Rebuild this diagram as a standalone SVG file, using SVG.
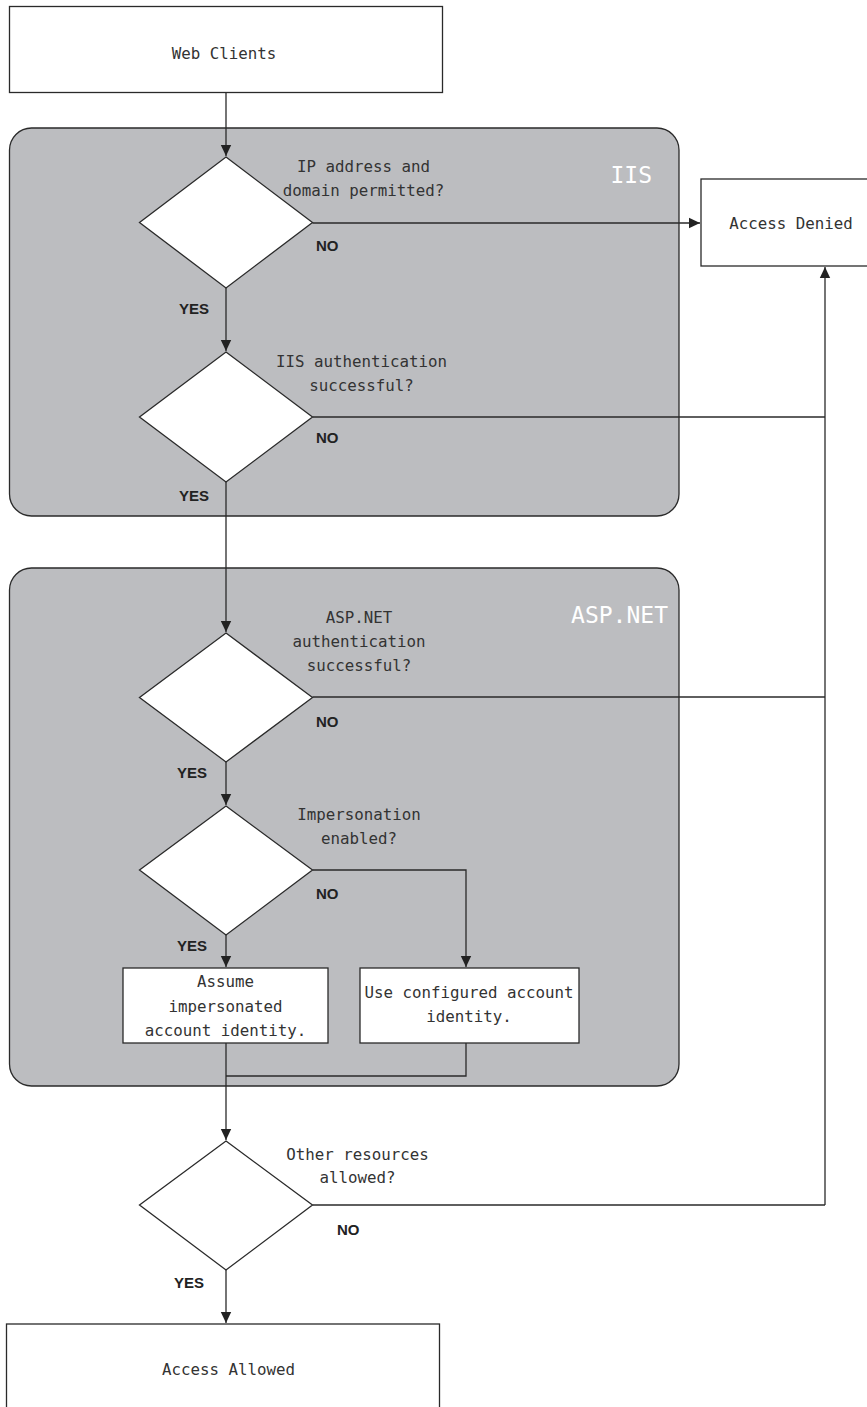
<svg xmlns="http://www.w3.org/2000/svg" width="867" height="1407" viewBox="0 0 867 1407">
<defs>
<marker id="arr" markerUnits="userSpaceOnUse" markerWidth="12" markerHeight="12" viewBox="0 0 12 12" refX="11" refY="6" orient="auto">
<path d="M0,0.8 L11,6 L0,11.2 Z" fill="#222"/>
</marker>
<style>
.panel{fill:#bcbdc0;stroke:#2a2a2a;stroke-width:1.3}
.box{fill:#fff;stroke:#2a2a2a;stroke-width:1.3}
.dia{fill:#fff;stroke:#2a2a2a;stroke-width:1.3}
.mono{font-family:"DejaVu Sans Mono","Liberation Mono",monospace;font-size:15.8px;fill:#333;text-anchor:middle}
.lbl{font-family:"Liberation Sans",Arial,sans-serif;font-size:15px;font-weight:bold;fill:#222}
.title{font-family:"DejaVu Sans Mono","Liberation Mono",monospace;font-size:23px;fill:#fff;text-anchor:end}
.conn{fill:none;stroke:#2a2a2a;stroke-width:1.3}
</style>
</defs>
<rect width="867" height="1407" fill="#fff"/>

<g id="iis-panel">
<rect class="panel" x="9.5" y="128" width="669.5" height="388" rx="22"/>
<text class="title" x="652" y="183">IIS</text>
</g>
<g id="aspnet-panel">
<rect class="panel" x="9.5" y="568" width="669.5" height="518" rx="22"/>
<text class="title" x="668" y="623">ASP.NET</text>
</g>

<g id="connectors">
<path class="conn" d="M226,93 L226,156" marker-end="url(#arr)"/>
<path class="conn" d="M226,288 L226,351" marker-end="url(#arr)"/>
<path class="conn" d="M312.5,223 L700,223" marker-end="url(#arr)"/>
<path class="conn" d="M312.5,417 L825,417"/>
<path class="conn" d="M226,482 L226,632" marker-end="url(#arr)"/>
<path class="conn" d="M312.5,697 L825,697"/>
<path class="conn" d="M825,1205 L825,267" marker-end="url(#arr)"/>
<path class="conn" d="M226,762 L226,805" marker-end="url(#arr)"/>
<path class="conn" d="M312.5,870 L466,870 L466,967" marker-end="url(#arr)"/>
<path class="conn" d="M226,935 L226,967" marker-end="url(#arr)"/>
<path class="conn" d="M226,1043 L226,1140" marker-end="url(#arr)"/>
<path class="conn" d="M466,1043 L466,1076 L226,1076"/>
<path class="conn" d="M312.5,1205 L825,1205"/>
<path class="conn" d="M226,1270 L226,1323" marker-end="url(#arr)"/>
</g>

<g id="web-clients">
<rect class="box" x="9.5" y="6.5" width="433" height="86"/>
<text class="mono" x="224" y="59">Web Clients</text>
</g>

<g id="access-denied">
<rect class="box" x="701" y="179" width="172" height="87"/>
<text class="mono" x="791" y="229">Access Denied</text>
</g>

<g id="access-allowed">
<rect class="box" x="6.5" y="1324" width="433" height="92"/>
<text class="mono" x="228.5" y="1375">Access Allowed</text>
</g>

<g id="d-ip">
<polygon class="dia" points="226,157 312.5,222.5 226,288 139.5,222.5"/>
<text class="mono" x="363.5" y="172">IP address and</text>
<text class="mono" x="363.5" y="196">domain permitted?</text>
<text class="lbl" x="316" y="251">NO</text>
<text class="lbl" x="179" y="314">YES</text>
</g>

<g id="d-iisauth">
<polygon class="dia" points="226,352 312.5,417 226,482 139.5,417"/>
<text class="mono" x="361.5" y="367">IIS authentication</text>
<text class="mono" x="361.5" y="391">successful?</text>
<text class="lbl" x="316" y="443">NO</text>
<text class="lbl" x="179" y="501">YES</text>
</g>

<g id="d-aspauth">
<polygon class="dia" points="226,633 312.5,697.5 226,762 139.5,697.5"/>
<text class="mono" x="359" y="623">ASP.NET</text>
<text class="mono" x="359" y="647">authentication</text>
<text class="mono" x="359" y="671">successful?</text>
<text class="lbl" x="316" y="727">NO</text>
<text class="lbl" x="177" y="778">YES</text>
</g>

<g id="d-imp">
<polygon class="dia" points="226,806 312.5,870 226,935 139.5,870"/>
<text class="mono" x="359" y="820">Impersonation</text>
<text class="mono" x="359" y="844">enabled?</text>
<text class="lbl" x="316" y="899">NO</text>
<text class="lbl" x="177" y="951">YES</text>
</g>

<g id="assume">
<rect class="box" x="123" y="968" width="205" height="75"/>
<text class="mono" x="225.5" y="987">Assume</text>
<text class="mono" x="225.5" y="1012">impersonated</text>
<text class="mono" x="225.5" y="1036">account identity.</text>
</g>

<g id="use-configured">
<rect class="box" x="360" y="968" width="219" height="75"/>
<text class="mono" x="469" y="998">Use configured account</text>
<text class="mono" x="469" y="1022">identity.</text>
</g>

<g id="d-other">
<polygon class="dia" points="226,1141 312.5,1205 226,1270 139.5,1205"/>
<text class="mono" x="357.5" y="1160">Other resources</text>
<text class="mono" x="357.5" y="1183">allowed?</text>
<text class="lbl" x="337" y="1235">NO</text>
<text class="lbl" x="174" y="1288">YES</text>
</g>
</svg>
